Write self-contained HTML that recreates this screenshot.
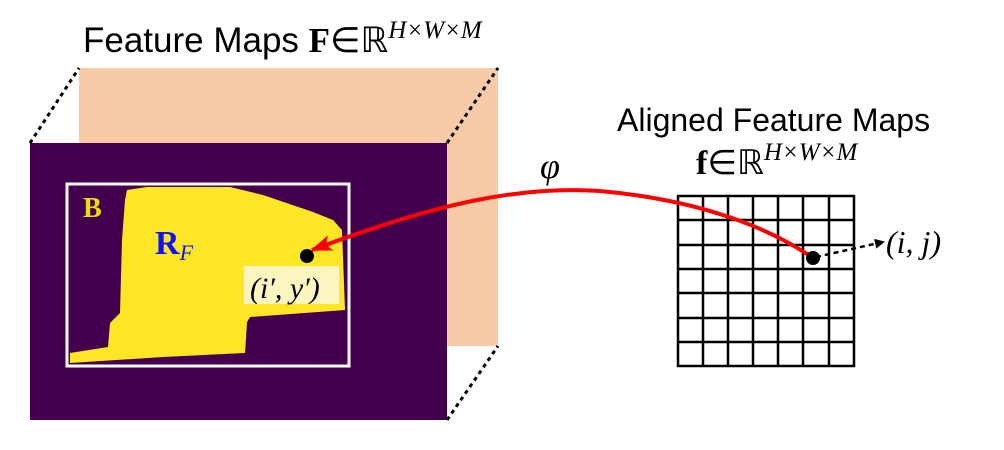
<!DOCTYPE html>
<html><head><meta charset="utf-8"><style>
body{margin:0;background:#fff;width:1004px;height:445px;overflow:hidden}
svg text{font-family:"Liberation Sans",sans-serif}
.m{font-family:"Liberation Serif",serif}
</style></head><body>
<svg width="1004" height="445" viewBox="0 0 1004 445" xmlns="http://www.w3.org/2000/svg">
<defs><marker id="ar" markerWidth="10" markerHeight="10" refX="8" refY="5" orient="auto" markerUnits="userSpaceOnUse"><path d="M0,0 L10,5 L0,10 z" fill="#000"/></marker>
<marker id="rr" markerWidth="22" markerHeight="16" refX="20" refY="8" orient="auto" markerUnits="userSpaceOnUse"><path d="M0,0 L22,8 L0,16 L5,8 z" fill="#f00"/></marker></defs>
<rect x="79" y="68" width="419" height="278" fill="#f8cba6"/>
<rect x="30" y="143" width="417" height="277" fill="#44004f"/>
<g stroke="#000" stroke-width="3" stroke-dasharray="4,4">
<line x1="30" y1="143" x2="79" y2="68"/><line x1="447" y1="143" x2="498" y2="68"/><line x1="447" y1="420" x2="498" y2="346"/></g>
<rect x="67" y="184" width="282" height="182" fill="none" stroke="#fff" stroke-width="3"/>
<path d="M127,190 L147,187 L230,187 L263,195 L313,212 L333,220 L342,230 L345,310 L250,317 L247,322 L245,353 L163,357 L70,363 L70,353 L108,347 L110,323 L120,313 L122,240 L125,200 Z" fill="#fde725"/>
<rect x="244" y="266" width="95" height="38" fill="#fdf5c0"/>
<text x="250" y="298" class="m" font-size="30" font-style="italic">(i′, y′)</text>
<text x="83" y="217" class="m" font-size="28" font-weight="bold" fill="#e8e000">B</text>
<text x="155" y="254" class="m" font-size="34" font-weight="bold" fill="#1010ff">R<tspan font-size="22" font-style="italic" font-weight="normal" dy="6">F</tspan></text>
<circle cx="307" cy="256" r="7" fill="#000"/>
<text x="83" y="52" font-size="35">Feature Maps <tspan class="m" font-weight="bold">F</tspan><tspan class="m">∈ℝ</tspan><tspan class="m" font-style="italic" font-size="25" dy="-14">H×W×M</tspan></text>
<text x="617" y="131" font-size="32">Aligned Feature Maps</text>
<text x="696" y="174" class="m" font-size="34"><tspan font-weight="bold">f</tspan>∈ℝ<tspan font-style="italic" font-size="25" dy="-14">H×W×M</tspan></text>
<text x="540" y="178" class="m" font-size="36" font-style="italic">φ</text>
<g stroke="#000" stroke-width="2.5" fill="none">
<rect x="678" y="196" width="176" height="170"/>
<path d="M703,196V366M728,196V366M753,196V366M778,196V366M803,196V366M829,196V366M678,220H854M678,245H854M678,269H854M678,293H854M678,318H854M678,342H854"/></g>
<path d="M813,258 C770,228 700,200 600,191 C520,186 440,202 312,250" fill="none" stroke="#f00" stroke-width="4" marker-end="url(#rr)"/>
<circle cx="813" cy="258" r="7" fill="#000"/>
<line x1="816" y1="257" x2="883" y2="242" stroke="#000" stroke-width="2.5" stroke-dasharray="5,4" marker-end="url(#ar)"/>
<text x="886" y="253" class="m" font-size="32" font-style="italic">(i, j)</text>
</svg>
</body></html>
